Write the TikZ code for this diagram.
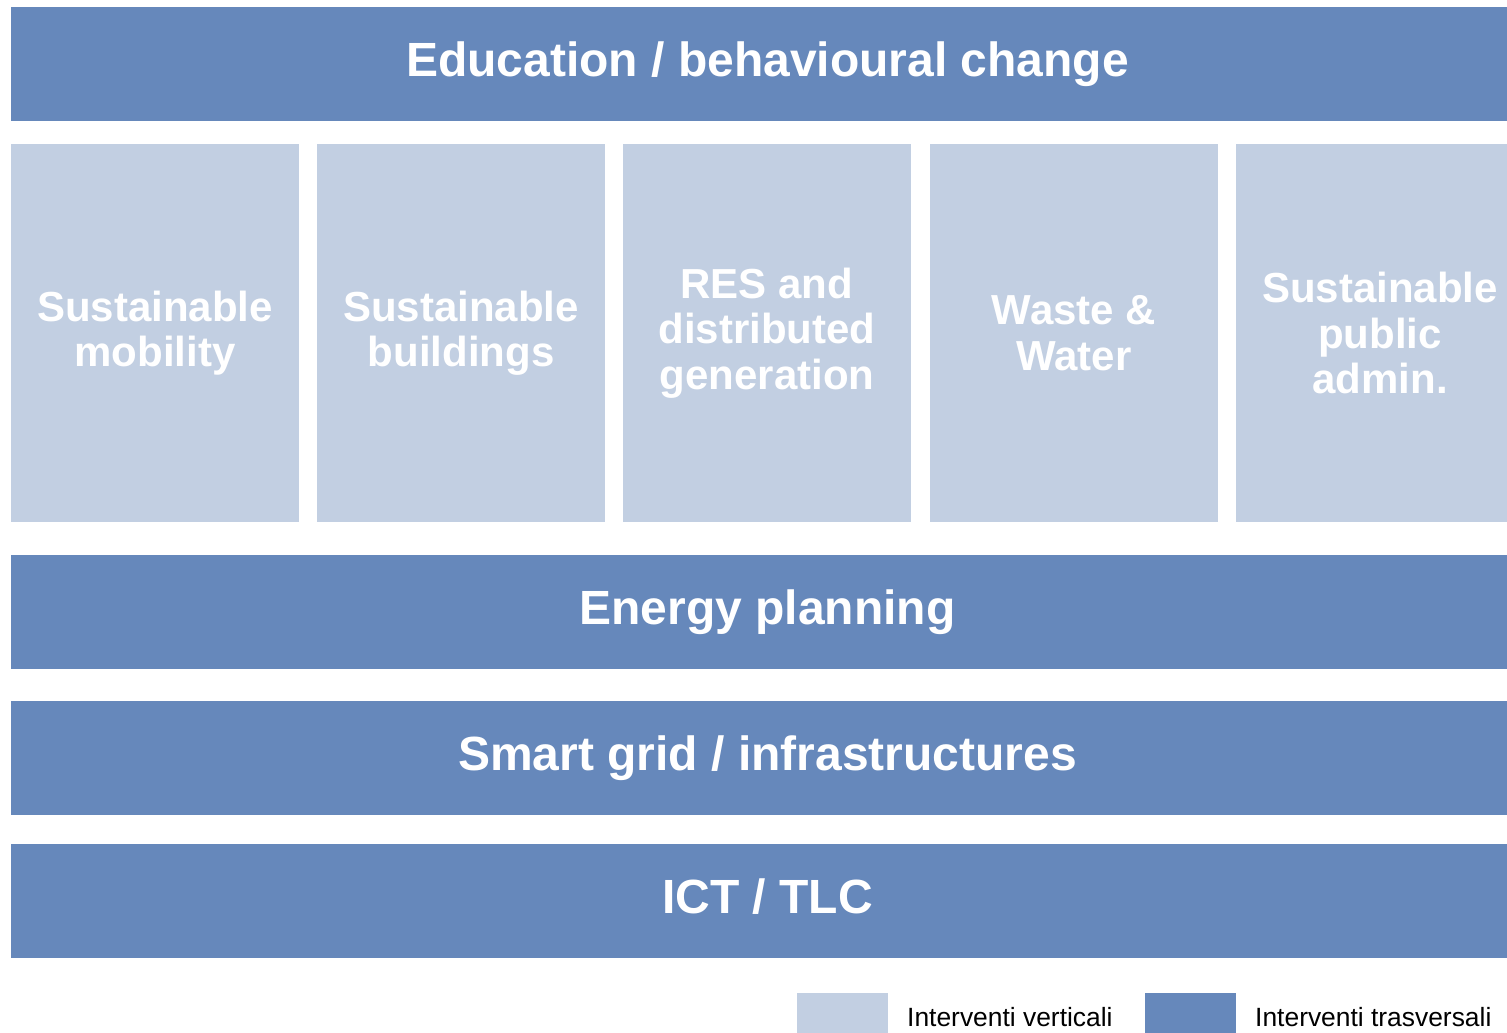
\documentclass[tikz,border=0pt]{standalone}
\usepackage{fontspec}
\setmainfont{Liberation Sans}
\usepackage{tikz}

\definecolor{bardark}{RGB}{102,136,187}
\definecolor{barlight}{RGB}{194,207,226}

\begin{document}
\begin{tikzpicture}[
    x=1pt, y=-1pt,
    layer/.style={rectangle, fill=bardark, inner sep=0, minimum width=1513pt, minimum height=114pt, text=white, font=\bfseries\fontsize{48}{51}\selectfont, text height=35pt, text depth=10pt, align=center},
    pillar/.style={rectangle, fill=barlight, inner sep=0, minimum width=288pt, minimum height=378pt, text=white, font=\bfseries\fontsize{42}{45.5}\selectfont, align=center},
    keybox/.style={rectangle, inner sep=0, minimum width=91pt, minimum height=48pt},
    keytext/.style={anchor=west, inner sep=0, font=\fontsize{26.4}{28}\selectfont}
]

\useasboundingbox (0,0) rectangle (1507,1033);
\clip (0,0) rectangle (1507,1033);

% Transversal layers
\node[layer] at (767.5,64) (edu) {Education / behavioural change};
\node[layer] at (767.5,611.5) (energy) {Energy planning};
\node[layer] at (767.5,757.5) (grid) {Smart grid / infrastructures};
\node[layer] at (767.5,900.5) (ict) {ICT / TLC};

% Vertical pillars
\node[pillar] at (155,333) (mobility) {Sustainable\\mobility};
\node[pillar] at (461,333) (buildings) {Sustainable\\buildings};
\node[pillar] at (767,333) (res) {RES and\\distributed\\generation};
\node[pillar] at (1074,333) (waste) {Waste \&\\Water};
\node[pillar] at (1380,333) (admin) {Sustainable\\public\\admin.};

% Legend
\node[keybox, fill=barlight] at (842.5,1017) (keyvert) {};
\node[keytext] at (907,1017) (labvert) {Interventi verticali};
\node[keybox, fill=bardark] at (1190.5,1017) (keytrans) {};
\node[keytext] at (1255,1017) (labtrans) {Interventi trasversali};

\end{tikzpicture}
\end{document}
